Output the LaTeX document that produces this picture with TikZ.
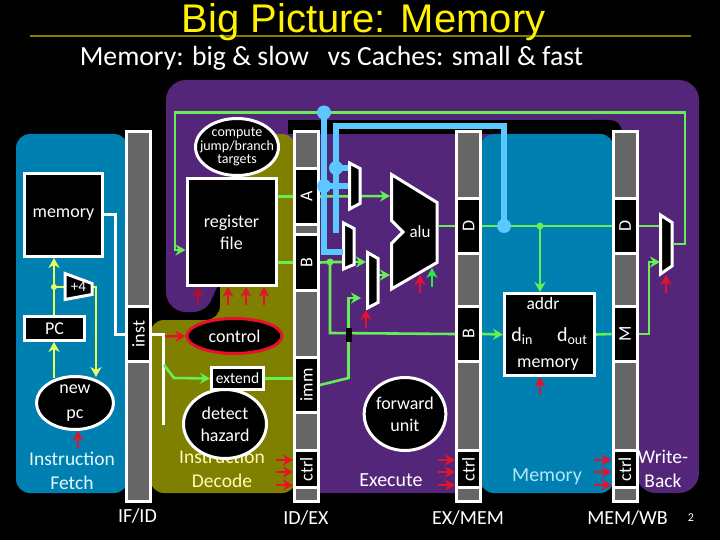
\documentclass[tikz,border=0pt]{standalone}
\usepackage{graphicx}
\usepackage{fontspec}
\setmainfont{Carlito}
\newfontfamily\titlefont{Liberation Sans}
\usetikzlibrary{shapes.geometric, arrows.meta}
\definecolor{stagepurple}{HTML}{54267A}
\definecolor{stageblue}{HTML}{0080B0}
\definecolor{stageolive}{HTML}{808000}
\definecolor{latchgray}{HTML}{666666}
\definecolor{wiregreen}{HTML}{66EE55}
\definecolor{wireyellow}{HTML}{E8FF60}
\definecolor{wireblue}{HTML}{5CC8FF}
\definecolor{ctrlred}{HTML}{E8102A}
\definecolor{ctrlgreen}{HTML}{22EE44}
\tikzset{
    unit/.style={draw=white, fill=black, line width=3pt, inner sep=0pt, align=center, text=white, font=\fontsize{18}{22}\selectfont},
    blob/.style={unit, ellipse},
    latch/.style={draw=white, fill=latchgray, line width=3pt, inner sep=0pt, minimum width=24pt},
    seg/.style={draw=white, fill=black, line width=3pt, inner sep=0pt, minimum width=24pt, text=white, font=\fontsize{18}{18}\selectfont},
    mux/.style={draw=white, fill=black, line width=3pt, line join=miter},
    gline/.style={draw=wiregreen, line width=2.6pt},
    garrow/.style={gline, -{Stealth[length=10pt,width=11pt]}},
    yline/.style={draw=wireyellow, line width=2.6pt},
    yarrow/.style={yline, -{Stealth[length=10pt,width=11pt]}},
    wline/.style={draw=white, line width=3pt},
    fwd/.style={draw=wireblue, line width=5.5pt},
    fwddot/.style={fill=wireblue, circle, inner sep=0pt, minimum size=14pt},
    rarrow/.style={draw=ctrlred, line width=2.4pt, -{Stealth[length=10pt,width=11pt]}},
    stagetext/.style={align=center, inner sep=0pt, font=\fontsize{19.5}{24}\selectfont},
    pipetext/.style={text=white, inner sep=0pt, font=\fontsize{20}{22}\selectfont}
}
\newcommand{\subtxt}[1]{\raisebox{-3.5pt}{\fontsize{14}{14}\selectfont #1}}

\begin{document}
\begin{tikzpicture}[x=1pt, y=-1pt]
\useasboundingbox (0,0) rectangle (720,540);
\fill[black] (0,0) rectangle (720,540);
% title
\draw[stageolive, line width=2pt] (30,36.5) -- (691,36.5);
\node[anchor=base, text=yellow, inner sep=0pt, font=\titlefont\fontsize{40}{44}\selectfont] (title) at (363.5,33) {Big Picture: Memory};
\node[anchor=base, text=white, inner sep=0pt, font=\fontsize{27.7}{30}\selectfont] (subtitle) at (331.5,66) {Memory: big \& slow \ \ vs Caches: small \& fast};
% stage backgrounds
\fill[stagepurple, rounded corners=20pt] (166,80) -- (699,80) -- (699,493) -- (636,493) -- (636,480) -- (478,480) -- (478,493) -- (300,493) -- (300,280) -- (213,280) -- (213,312) -- (166,312) -- cycle;
\fill[black] (288,120) rectangle (600,134);
\fill[black, rounded corners=12pt] (580,120) -- (622,120) -- (622,150) -- (580,150) -- cycle;
\fill[stageblue, rounded corners=14pt] (16,134) rectangle (128,493);
\fill[stageblue, rounded corners=14pt] (480,134) rectangle (614,493);
\fill[stageolive, rounded corners=14pt] (150,493) -- (150,320) -- (220,320) -- (220,250) -- (240,250) -- (240,134) -- (296,134) -- (296,493) -- cycle;
% latches
\node[latch, minimum height=370pt] (ifid) at (138.5,316.5) {};
\node[latch, minimum height=370pt] (idex) at (306.5,316.5) {};
\node[latch, minimum height=370pt] (exmem) at (468.5,316.5) {};
\node[latch, minimum height=370pt] (memwb) at (625,316.5) {};
\node[seg, minimum height=55pt] (inst) at (138.5,334) {\rotatebox{90}{inst}};
\node[seg, minimum height=56pt] (idexA) at (306.5,196.5) {\rotatebox{90}{A}};
\node[seg, minimum height=56pt] (idexB) at (306.5,262.5) {\rotatebox{90}{B}};
\node[seg, minimum height=55pt] (idexImm) at (306.5,385) {\rotatebox{90}{imm}};
\node[seg, minimum height=37pt] (idexCtrl) at (306.5,469) {\rotatebox{90}{ctrl}};
\node[seg, minimum height=55pt] (exmemD) at (468.5,226) {\rotatebox{90}{D}};
\node[seg, minimum height=55pt] (exmemB) at (468.5,334) {\rotatebox{90}{B}};
\node[seg, minimum height=37pt] (exmemCtrl) at (468.5,469) {\rotatebox{90}{ctrl}};
\node[seg, minimum height=55pt] (memwbD) at (625,226) {\rotatebox{90}{D}};
\node[seg, minimum height=55pt] (memwbM) at (625,334) {\rotatebox{90}{M}};
\node[seg, minimum height=37pt] (memwbCtrl) at (625,469) {\rotatebox{90}{ctrl}};
% fetch
\node[unit, minimum width=78pt, minimum height=83pt] (imem) at (63.5,215) {memory};
\node[unit, minimum width=60pt, minimum height=24pt] (pc) at (54.5,328.5) {PC};
\node[blob, inner ysep=-5pt, minimum width=77pt, minimum height=53pt] (newpc) at (75,403) {new\\[3pt]pc};
\node[stagetext, text=cyan!10] (fetchtext) at (72,470.5) {Instruction\\Fetch};
\coordinate (plusin) at (65,287);
\coordinate (plusout) at (93,287);
\coordinate (pcsplit) at (54,287);
\draw[yarrow] (pc.north -| pcsplit) -- (imem.south -| pcsplit);
\draw[yarrow] ([yshift=-3pt]newpc.north -| pcsplit) -- (pc.south -| pcsplit);
\draw[yline] (pcsplit) -- (plusin);
\draw[yarrow] (plusout) -- (96,287) -- (96,377);
\fill[wireyellow] (pcsplit) circle (3pt);
\draw[mux] (65,273.5) -- (92,283.5) -- (92,294.5) -- (65,299.5) -- cycle;
\node[text=white, inner sep=0pt, font=\fontsize{15}{15}\selectfont] (plusfour) at (78.5,287) {+4};
\draw[rarrow] (78,448) -- (newpc.south -| 78,0);
\draw[wline] (imem.east |- 0,215) -- (115,215) -- (115,334) -- (inst.west);
% decode
\node[stagetext, text=yellow!30] (decodetext) at (222,468.5) {Instruction\\Decode};
\draw[wline] (inst.east) -- (163,334) -- (163,425);
\node[unit, minimum width=89pt, minimum height=107pt] (regfile) at (231.5,232) {register\\file};
\node[blob, inner xsep=-8pt, inner ysep=-3pt, minimum width=83pt, minimum height=57pt, font=\fontsize{14}{13.5}\selectfont] (compute) at (237,147) {compute\\jump/branch\\targets};
\node[unit, ellipse, draw=ctrlred, minimum width=95pt, minimum height=35pt] (control) at (234.5,336) {control};
\node[unit, minimum width=52pt, minimum height=22pt, font=\fontsize{15.5}{16}\selectfont] (extend) at (237.5,378.5) {extend};
\node[blob, minimum width=83pt, minimum height=69pt] (hazard) at (225,424) {detect\\hazard};
\draw[rarrow] (165,336.5) -- (control.west);
\draw[garrow] (164,365) -- (174,378) -- (extend.west);
\draw[gline] (extend.east) -- (idexImm.west |- extend.east);
\foreach \xreg/\cname in {198/ctrlred!80!black, 228/ctrlred, 246/ctrlred, 264/ctrlred}
    \draw[draw=\cname, line width=2.4pt, -{Stealth[length=10pt,width=11pt]}] (\xreg,305) -- (\xreg,287);
\draw[gline] (regfile.east |- idexA.west) -- (idexA.west);
\draw[gline] (regfile.east |- idexB.west) -- (idexB.west);
\foreach \yctrl in {460,472,485} {
    \draw[rarrow] (276,\yctrl) -- (idexCtrl.west |- 0,\yctrl);
    \draw[rarrow] (438,\yctrl) -- (exmemCtrl.west |- 0,\yctrl);
    \draw[rarrow] (594,\yctrl) -- (memwbCtrl.west |- 0,\yctrl);
}
% execute
\coordinate (alutop) at (390,196);
\coordinate (alulow) at (390,275);
\coordinate (bsplit) at (330,262);
\draw[garrow] (idexA.east) -- (alutop);
\draw[gline] (idexB.east) -- (bsplit) -- (342,262);
\draw[garrow] (355,262) -- (366,262);
\draw[garrow] (379,275) -- (alulow);
\fill[wiregreen] (bsplit) circle (3.5pt);
\draw[gline] (bsplit) -- (330,333) -- (exmemB.west);
\draw[gline] (idexImm.east) -- (348.5,378) -- (348.5,342);
\draw[black, line width=6pt] (348.5,328) -- (348.5,342);
\draw[garrow] (348.5,328) -- (348.5,298) -- (361,298);
\draw[mux] (349.5,163) -- (360,168.5) -- (360,203.5) -- (349.5,209) -- cycle;
\draw[mux] (343.5,223) -- (354,228.5) -- (354,264.5) -- (343.5,269) -- cycle;
\draw[mux] (367.5,252.5) -- (378,258.5) -- (378,302.5) -- (367.5,308) -- cycle;
\draw[mux] (391.5,174.5) -- (437,202.5) -- (437,262.5) -- (391.5,289) -- (391.5,243.5) -- (403,232) -- (391.5,220.5) -- cycle;
\node[text=white, inner sep=0pt, font=\fontsize{17}{17}\selectfont] (alu) at (420,232) {alu};
\draw[rarrow] (366,328) -- (366,310);
\draw[rarrow] (420,293) -- (420,275);
\draw[draw=ctrlgreen, line width=2.4pt, -{Stealth[length=10pt,width=11pt]}] (432,287) -- (432,268);
\node[blob, minimum width=79pt, minimum height=73pt] (forward) at (405,414) {forward\\unit};
\node[stagetext, text=white, font=\fontsize{20}{24}\selectfont] (executetext) at (391,480) {Execute};
\draw[gline] (438,226) -- (exmemD.west);
% memory
\node[unit, minimum width=90pt, minimum height=82pt] (dmem) at (549.5,334.5) {};
\node[text=white, inner sep=0pt, font=\fontsize{17.5}{17.5}\selectfont] (addr) at (543,303) {addr};
\node[text=white, inner sep=0pt, font=\fontsize{20}{20}\selectfont] (din) at (522,336) {d\subtxt{in}};
\node[text=white, inner sep=0pt, font=\fontsize{20}{20}\selectfont] (dout) at (572,336) {d\subtxt{out}};
\node[text=white, inner sep=0pt, font=\fontsize{18}{18}\selectfont] (dmemtext) at (548,365) {memory};
\node[stagetext, text=cyan!30, font=\fontsize{20}{24}\selectfont] (memorytext) at (547,477) {Memory};
\coordinate (aluforward) at (504,226);
\coordinate (addrsplit) at (540,226);
\draw[gline] (exmemD.east) -- (memwbD.west);
\fill[wiregreen] (addrsplit) circle (3.5pt);
\draw[garrow] (addrsplit) -- (dmem.north -| addrsplit);
\draw[garrow] (exmemB.east) -- (dmem.west);
\draw[gline] (dmem.east) -- (memwbM.west);
\draw[rarrow] (540,395) -- (dmem.south -| 540,0);
% write back
\coordinate (wbout) at (673,244);
\draw[gline] (memwbD.east) -- (660,226);
\draw[garrow] (memwbM.east) -- (649,334) -- (649,262) -- (660,262);
\draw[mux] (660.5,215) -- (672,222.5) -- (672,266) -- (660.5,274) -- cycle;
\draw[rarrow] (666,293) -- (666,275);
\draw[garrow] (wbout) -- (685,244) -- (685,112.5) -- (175,112.5) -- (175,250) -- (regfile.west |- 0,250);
\node[stagetext, text=white] (wbtext) at (663,469) {Write-\\Back};
% forwarding
\coordinate (topdot) at (324,112.5);
\coordinate (adot) at (324,186);
\coordinate (bdot) at (336,168);
\draw[fwd] (topdot) -- (324,252) -- (343,252);
\draw[fwd] (336,233) -- (336,126) -- (504,126) -- (aluforward);
\draw[fwd] (adot) -- (348,186);
\draw[fwd] (bdot) -- (348,168);
\node[fwddot] (dotone) at (topdot) {};
\node[fwddot] (dottwo) at (adot) {};
\node[fwddot] (dotthree) at (bdot) {};
\node[fwddot] (dotfour) at (aluforward) {};
% pipeline register names
\node[pipetext] (ifidtext) at (137.5,516) {IF/ID};
\node[pipetext] (idextext) at (306,518) {ID/EX};
\node[pipetext] (exmemtext) at (468,518) {EX/MEM};
\node[pipetext] (memwbtext) at (627.5,518) {MEM/WB};
\node[text=white, inner sep=0pt, font=\fontsize{12}{12}\selectfont] (pagenum) at (691,518) {2};
\end{tikzpicture}
\end{document}
